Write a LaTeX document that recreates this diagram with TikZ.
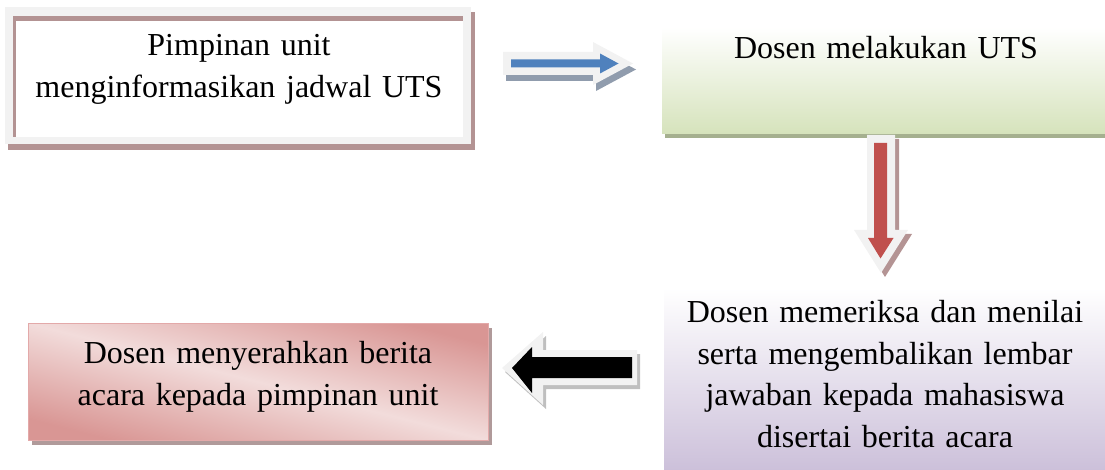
\documentclass[tikz,border=0pt]{standalone}
\usepackage{fontspec}
\setmainfont{Liberation Serif}
\usetikzlibrary{shadings}
\definecolor{mauve}{HTML}{B39393}
\definecolor{lgray}{HTML}{F2F2F2}
\definecolor{grn}{HTML}{D6E3BC}
\definecolor{grnsh}{HTML}{A5B08F}
\definecolor{lav}{HTML}{CCC0DA}
\definecolor{pinkd}{HTML}{D99694}
\definecolor{pinkl}{HTML}{F2DCDB}
\definecolor{pinkb}{HTML}{E3A9A9}
\definecolor{pinksh}{HTML}{B09A9A}
\definecolor{blu}{HTML}{4F81BD}
\definecolor{blush}{HTML}{909CAD}
\definecolor{rd}{HTML}{C0504D}
\definecolor{rdsh}{HTML}{B49494}
\definecolor{gsh}{HTML}{BFBFBF}
\tikzset{
  txt/.style={inner sep=0pt, align=center, anchor=base, text width=440pt,
    font=\fontsize{32}{41.6}\selectfont},
  boxnode/.style={inner sep=0pt, draw=none, anchor=north west},
}
\begin{document}
\begin{tikzpicture}[x=1pt,y=-1pt]
\useasboundingbox (0,0) rectangle (1105,470);
% ---------- box 1 ----------
\fill[mauve] (8,12) rectangle (475,150);
\fill[lgray] (5,7) rectangle (471,144);
\node[boxnode, fill=white, minimum width=450pt, minimum height=121pt] (b1) at (13,16) {};
\fill[mauve] (13,16) rectangle (463,21);
\fill[mauve] (13,16) rectangle (16,137);
\node[txt] (t1) at (239,55.5) {Pimpinan unit\\menginformasikan jadwal UTS};
% ---------- box 2 ----------
\fill[grnsh] (665,32) rectangle (1105,138);
\node[boxnode, top color=white, bottom color=grn, minimum width=443pt, minimum height=106pt] (b2) at (662,27) {};
\node[txt] (t2) at (886,59) {Dosen melakukan UTS};
% ---------- box 4 ----------
\node[boxnode, top color=white, bottom color=lav, minimum width=441pt, minimum height=182pt] (b4) at (664,288) {};
\node[txt] (t4) at (885,322.5) {Dosen memeriksa dan menilai\\serta mengembalikan lembar\\jawaban kepada mahasiswa\\disertai berita acara};
% ---------- box 3 ----------
\fill[pinksh] (32,328) rectangle (492,445);
\node[boxnode, top color=pinkd, bottom color=pinkd, middle color=pinkl, shading angle=-14.3,
  minimum width=460pt, minimum height=117pt] (b3) at (28,323) {};
\draw[pinkb, line width=1pt] (b3.north west) rectangle (b3.south east);
\node[txt] (t3) at (258,363.5) {Dosen menyerahkan berita\\acara kepada pimpinan unit};
% ---------- blue arrow ----------
\fill[blush] (506,58) -- (596,58) -- (596,48) -- (636,69.5) -- (596,91) -- (596,81) -- (506,81) -- cycle;
\fill[lgray] (503,52) -- (593,52) -- (593,42) -- (633,63.5) -- (593,85) -- (593,75) -- (503,75) -- cycle;
\fill[blu] (511,59.5) -- (600,59.5) -- (600,53.5) -- (618.5,63.5) -- (600,73.5) -- (600,67.5) -- (511,67.5) -- cycle;
% ---------- red arrow ----------
\fill[rdsh] (871,139) -- (899,139) -- (899,234) -- (912,234) -- (885,277) -- (858,234) -- (871,234) -- cycle;
\fill[lgray] (867,135) -- (895,135) -- (895,230) -- (908,230) -- (881,273) -- (854,230) -- (867,230) -- cycle;
\fill[rd] (874,143) -- (887,143) -- (887,238) -- (893.5,238) -- (880.5,258.5) -- (868,238) -- (874,238) -- cycle;
% ---------- black arrow ----------
\fill[gsh] (640,354) -- (546,354) -- (546,336) -- (505,372) -- (546,409) -- (546,389) -- (640,389) -- cycle;
\fill[lgray] (637,350) -- (543,350) -- (543,332) -- (502,368) -- (543,405) -- (543,385) -- (637,385) -- cycle;
\fill[black] (632,357) -- (532,357) -- (532,347) -- (512,368) -- (532,393) -- (532,378) -- (632,378) -- cycle;
\end{tikzpicture}
\end{document}
